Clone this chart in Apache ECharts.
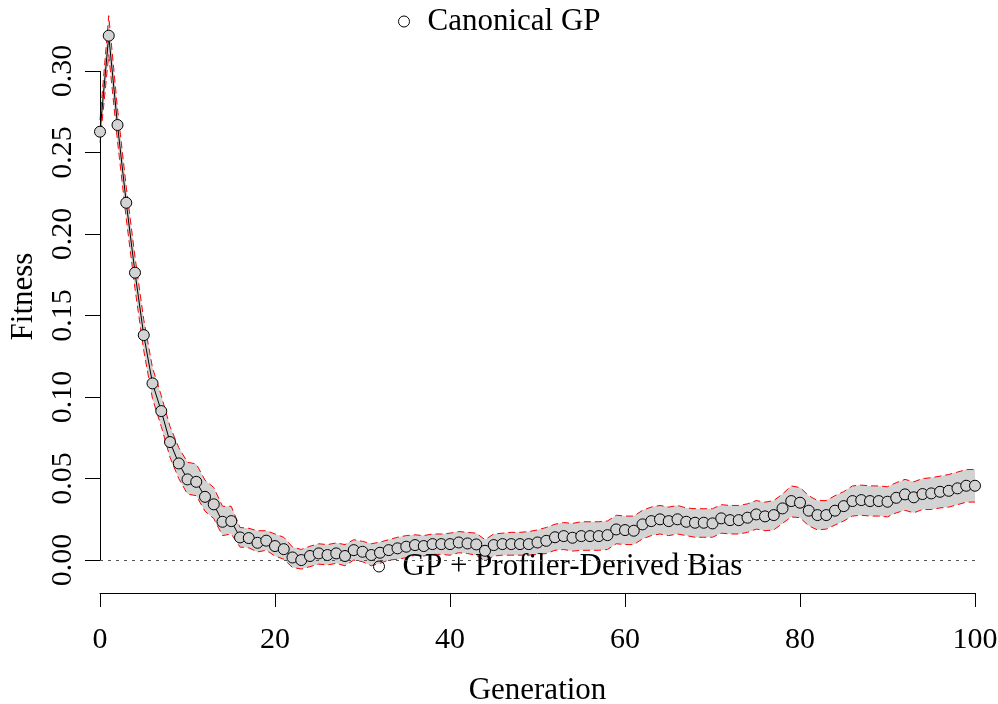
<!DOCTYPE html>
<html><head><meta charset="utf-8">
<script src="https://cdn.jsdelivr.net/npm/echarts@6/dist/echarts.min.js"></script>
<style>html,body{margin:0;padding:0;background:#fff}#c{width:998px;height:704px}</style>
</head><body><div id="c"></div>
<script>
// ---- data ----
const meanFitness = [
0.2628,0.3217,0.2669,0.2192,0.1763,0.1380,0.1084,0.0914,0.0724,0.0593,
0.0495,0.0480,0.0388,0.0342,0.0235,0.0239,0.0139,0.0135,0.0106,0.0119,
0.0086,0.0067,0.0016,0.0000,0.0025,0.0041,0.0031,0.0041,0.0025,0.0061,
0.0051,0.0031,0.0045,0.0061,0.0072,0.0082,0.0092,0.0086,0.0098,0.0098,
0.0098,0.0108,0.0102,0.0096,0.0057,0.0092,0.0098,0.0098,0.0098,0.0098,
0.0108,0.0118,0.0140,0.0147,0.0137,0.0147,0.0147,0.0147,0.0153,0.0188,
0.0184,0.0180,0.0219,0.0239,0.0250,0.0239,0.0250,0.0235,0.0229,0.0229,
0.0225,0.0256,0.0245,0.0245,0.0260,0.0280,0.0268,0.0276,0.0317,0.0362,
0.0352,0.0303,0.0276,0.0276,0.0303,0.0331,0.0362,0.0368,0.0362,0.0362,
0.0358,0.0382,0.0403,0.0385,0.0405,0.0409,0.0419,0.0425,0.0440,0.0456,
0.0456];
const upperBand = [
0.2700,0.3340,0.2770,0.2290,0.1860,0.1475,0.1180,0.1010,0.0820,0.0690,
0.0600,0.0590,0.0490,0.0445,0.0330,0.0330,0.0200,0.0195,0.0180,0.0180,
0.0160,0.0140,0.0080,0.0065,0.0085,0.0100,0.0095,0.0105,0.0095,0.0125,
0.0115,0.0100,0.0110,0.0125,0.0140,0.0150,0.0155,0.0150,0.0160,0.0160,
0.0165,0.0175,0.0170,0.0165,0.0125,0.0160,0.0165,0.0170,0.0170,0.0175,
0.0185,0.0200,0.0220,0.0230,0.0225,0.0235,0.0235,0.0235,0.0240,0.0275,
0.0270,0.0270,0.0305,0.0325,0.0335,0.0325,0.0335,0.0320,0.0315,0.0315,
0.0315,0.0340,0.0335,0.0335,0.0345,0.0365,0.0355,0.0365,0.0405,0.0455,
0.0445,0.0395,0.0365,0.0365,0.0395,0.0420,0.0455,0.0460,0.0455,0.0455,
0.0450,0.0475,0.0495,0.0480,0.0500,0.0505,0.0515,0.0525,0.0540,0.0555,
0.0556];
const lowerBand = [
0.2560,0.3100,0.2570,0.2095,0.1665,0.1285,0.0990,0.0820,0.0630,0.0500,
0.0405,0.0395,0.0300,0.0255,0.0150,0.0160,0.0080,0.0075,0.0050,0.0060,
0.0025,0.0005,-0.0045,-0.0055,-0.0040,-0.0025,-0.0030,-0.0020,-0.0035,0.0000,
-0.0010,-0.0035,-0.0020,0.0000,0.0005,0.0015,0.0030,0.0025,0.0035,0.0035,
0.0030,0.0045,0.0040,0.0030,-0.0005,0.0025,0.0030,0.0030,0.0030,0.0030,
0.0035,0.0040,0.0060,0.0065,0.0055,0.0060,0.0060,0.0060,0.0065,0.0100,
0.0095,0.0095,0.0130,0.0150,0.0160,0.0150,0.0160,0.0150,0.0140,0.0140,
0.0140,0.0165,0.0160,0.0160,0.0170,0.0190,0.0180,0.0185,0.0225,0.0265,
0.0260,0.0210,0.0185,0.0190,0.0215,0.0240,0.0270,0.0275,0.0270,0.0270,
0.0265,0.0290,0.0305,0.0290,0.0310,0.0310,0.0320,0.0325,0.0340,0.0355,
0.0356];
const yTickValues = [0, 0.05, 0.10, 0.15, 0.20, 0.25, 0.30];
const xTickValues = [0, 20, 40, 60, 80, 100];
const seriesNames = ['Canonical GP', 'GP + Profiler-Derived Bias'];

// ---- build ----
const generations = meanFitness.map((_, i) => i);
const meanPts = generations.map((g, i) => [g, meanFitness[i]]);
const upperPts = generations.map((g, i) => [g, upperBand[i]]);
const lowerPts = generations.map((g, i) => [g, lowerBand[i]]);

const FONT = 'Liberation Serif';
const chart = echarts.init(document.getElementById('c'), null, {renderer: 'canvas'});
const legendCommon = {
  orient: 'horizontal', padding: 0, icon: 'circle', itemWidth: 11, itemHeight: 11,
  itemStyle: {color: 'rgba(0,0,0,0)', borderColor: '#000', borderWidth: 1},
  textStyle: {fontFamily: FONT, fontSize: 31, color: '#000', padding: [0, 0, 0, 13]},
  selectedMode: false
};
chart.setOption({
  animation: false,
  backgroundColor: '#fff',
  grid: {left: 100, right: 23, top: 0, bottom: 111, containLabel: false, outerBoundsMode: 'none'},
  legend: [
    Object.assign({data: [seriesNames[0]], left: 398, top: 6}, legendCommon),
    Object.assign({data: [seriesNames[1]], left: 373, top: 551}, legendCommon)
  ],
  xAxis: {
    type: 'value', min: 0, max: 100, interval: 20,
    name: 'Generation', nameLocation: 'middle', nameGap: 82,
    nameTextStyle: {fontFamily: FONT, fontSize: 31, color: '#000'},
    axisLine: {show: true, onZero: false, lineStyle: {color: '#000', width: 1}},
    axisTick: {show: true, length: 14, lineStyle: {color: '#000'}},
    axisLabel: {fontFamily: FONT, fontSize: 30, color: '#000', margin: 32},
    splitLine: {show: false}
  },
  yAxis: {
    type: 'value', min: -0.0202, max: 0.3436,
    name: 'Fitness', nameLocation: 'middle', nameGap: 61, nameRotate: 90,
    nameTextStyle: {fontFamily: FONT, fontSize: 31, color: '#000'},
    axisLine: {show: false},
    axisTick: {show: true, length: 15, customValues: yTickValues, lineStyle: {color: '#000'}},
    axisLabel: {fontFamily: FONT, fontSize: 30, color: '#000', rotate: 90, margin: 22,
      customValues: yTickValues, formatter: v => v.toFixed(2)},
    splitLine: {show: false}
  },
  series: [
    {
      type: 'line', name: 'zero', data: [], silent: true, z: 1,
      markLine: {silent: true, symbol: 'none', label: {show: false},
        lineStyle: {color: '#555', type: [3, 5], width: 1},
        data: [{yAxis: 0}]}
    },
    {
      type: 'custom', name: 'band', silent: true, z: 2, clip: false,
      data: [[0, lowerBand[0]]],
      renderItem: function (params, api) {
        const pts = [];
        for (let i = 0; i < generations.length; i++) pts.push(api.coord(upperPts[i]));
        for (let i = generations.length - 1; i >= 0; i--) pts.push(api.coord(lowerPts[i]));
        return {type: 'polygon', shape: {points: pts}, style: {fill: '#d3d3d3', stroke: null}};
      }
    },
    {
      type: 'line', name: 'upper', data: upperPts, symbol: 'none', z: 3, clip: false, silent: true,
      lineStyle: {color: '#ff0000', width: 1, type: [7, 4]}
    },
    {
      type: 'line', name: 'lower', data: lowerPts, symbol: 'none', z: 3, clip: false, silent: true,
      lineStyle: {color: '#ff0000', width: 1, type: [7, 4]}
    },
    {
      type: 'line', name: 'yaxisline', data: [], z: 4, silent: true,
      markLine: {silent: true, symbol: 'none', label: {show: false},
        lineStyle: {color: '#000', type: 'solid', width: 1},
        data: [[{coord: [0, yTickValues[0]]}, {coord: [0, yTickValues[yTickValues.length - 1]]}]]}
    },
    {
      type: 'line', name: seriesNames[0], data: meanPts, z: 5, clip: false,
      symbol: 'circle', symbolSize: 11,
      lineStyle: {color: '#000', width: 1},
      itemStyle: {color: '#d3d3d3', borderColor: '#000', borderWidth: 1}
    },
    {
      type: 'line', name: seriesNames[1], data: [], z: 5,
      symbol: 'circle', symbolSize: 11,
      lineStyle: {color: '#000', width: 1},
      itemStyle: {color: 'rgba(0,0,0,0)', borderColor: '#000', borderWidth: 1}
    }
  ]
});
</script></body></html>
